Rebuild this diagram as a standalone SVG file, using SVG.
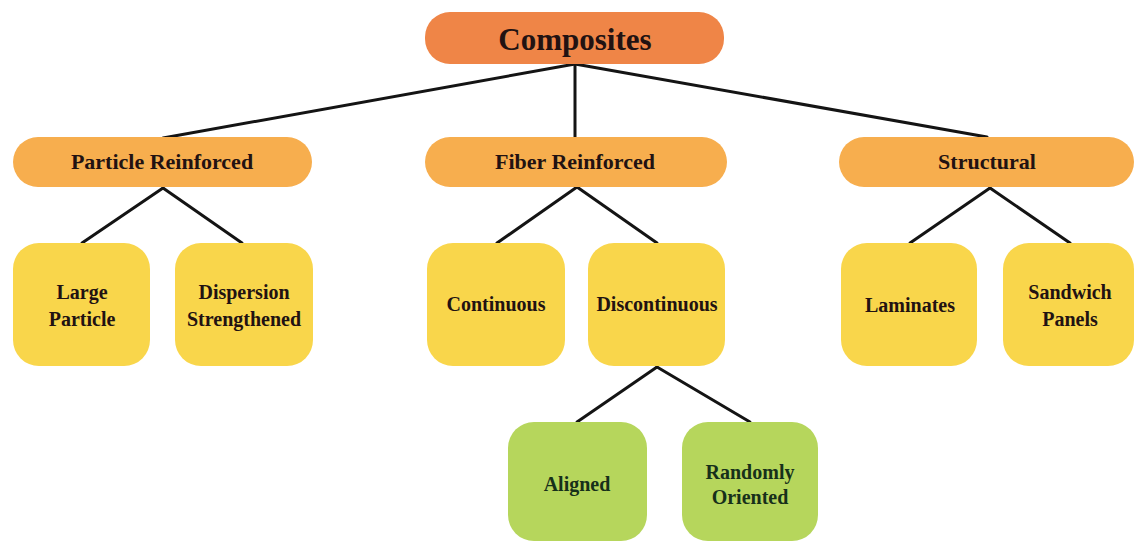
<svg xmlns="http://www.w3.org/2000/svg" width="1136" height="545" viewBox="0 0 1136 545">
<style>
.bg{fill:#ffffff}
.c0{fill:#EF8547}
.c1{fill:#F7AE4E}
.c2{fill:#F9D64B}
.c3{fill:#B6D65C}
.t{font-family:"Liberation Serif","DejaVu Serif",serif;font-weight:bold;text-anchor:middle;fill:#221212}
.tg{fill:#17301a}
.edge{stroke:#141414;stroke-width:3;fill:none;stroke-linecap:round}
</style>
<rect class="bg" x="0" y="0" width="1136" height="545"/>
<g id="connectors">
<line class="edge" x1="575" y1="64" x2="163" y2="138"/>
<line class="edge" x1="575" y1="64" x2="575" y2="137"/>
<line class="edge" x1="575" y1="64" x2="987" y2="137"/>
<line class="edge" x1="163" y1="188" x2="82" y2="243"/>
<line class="edge" x1="163" y1="188" x2="242" y2="243"/>
<line class="edge" x1="577" y1="187" x2="497" y2="243"/>
<line class="edge" x1="577" y1="187" x2="657" y2="243"/>
<line class="edge" x1="990" y1="188" x2="910" y2="243"/>
<line class="edge" x1="990" y1="188" x2="1070" y2="243"/>
<line class="edge" x1="657" y1="367" x2="577" y2="422"/>
<line class="edge" x1="657" y1="367" x2="750" y2="422"/>
</g>
<g id="composites">
<rect class="c0" x="425" y="12" width="299" height="52" rx="25"/>
<text class="t" x="575" y="50" font-size="31">Composites</text>
</g>
<g id="particle-reinforced">
<rect class="c1" x="13" y="137" width="299" height="50" rx="25"/>
<text class="t" x="162" y="169" font-size="22">Particle Reinforced</text>
</g>
<g id="fiber-reinforced">
<rect class="c1" x="425" y="137" width="302" height="50" rx="25"/>
<text class="t" x="575" y="169" font-size="22">Fiber Reinforced</text>
</g>
<g id="structural">
<rect class="c1" x="839" y="137" width="295" height="50" rx="25"/>
<text class="t" x="987" y="169" font-size="22">Structural</text>
</g>
<g id="large-particle">
<rect class="c2" x="13" y="243" width="137" height="123" rx="26"/>
<text class="t" x="82" y="299" font-size="20">Large</text>
<text class="t" x="82" y="326" font-size="20">Particle</text>
</g>
<g id="dispersion-strengthened">
<rect class="c2" x="175" y="243" width="138" height="123" rx="26"/>
<text class="t" x="244" y="299" font-size="20">Dispersion</text>
<text class="t" x="244" y="326" font-size="20">Strengthened</text>
</g>
<g id="continuous">
<rect class="c2" x="427" y="243" width="138" height="123" rx="26"/>
<text class="t" x="496" y="311" font-size="20">Continuous</text>
</g>
<g id="discontinuous">
<rect class="c2" x="588" y="243" width="137" height="123" rx="26"/>
<text class="t" x="657" y="311" font-size="20">Discontinuous</text>
</g>
<g id="laminates">
<rect class="c2" x="841" y="243" width="136" height="123" rx="26"/>
<text class="t" x="910" y="312" font-size="20">Laminates</text>
</g>
<g id="sandwich-panels">
<rect class="c2" x="1003" y="243" width="131" height="123" rx="26"/>
<text class="t" x="1070" y="299" font-size="20">Sandwich</text>
<text class="t" x="1070" y="326" font-size="20">Panels</text>
</g>
<g id="aligned">
<rect class="c3" x="508" y="422" width="139" height="119" rx="26"/>
<text class="t tg" x="577" y="491" font-size="20">Aligned</text>
</g>
<g id="randomly-oriented">
<rect class="c3" x="682" y="422" width="136" height="119" rx="26"/>
<text class="t tg" x="750" y="479" font-size="20">Randomly</text>
<text class="t tg" x="750" y="504" font-size="20">Oriented</text>
</g>
</svg>
